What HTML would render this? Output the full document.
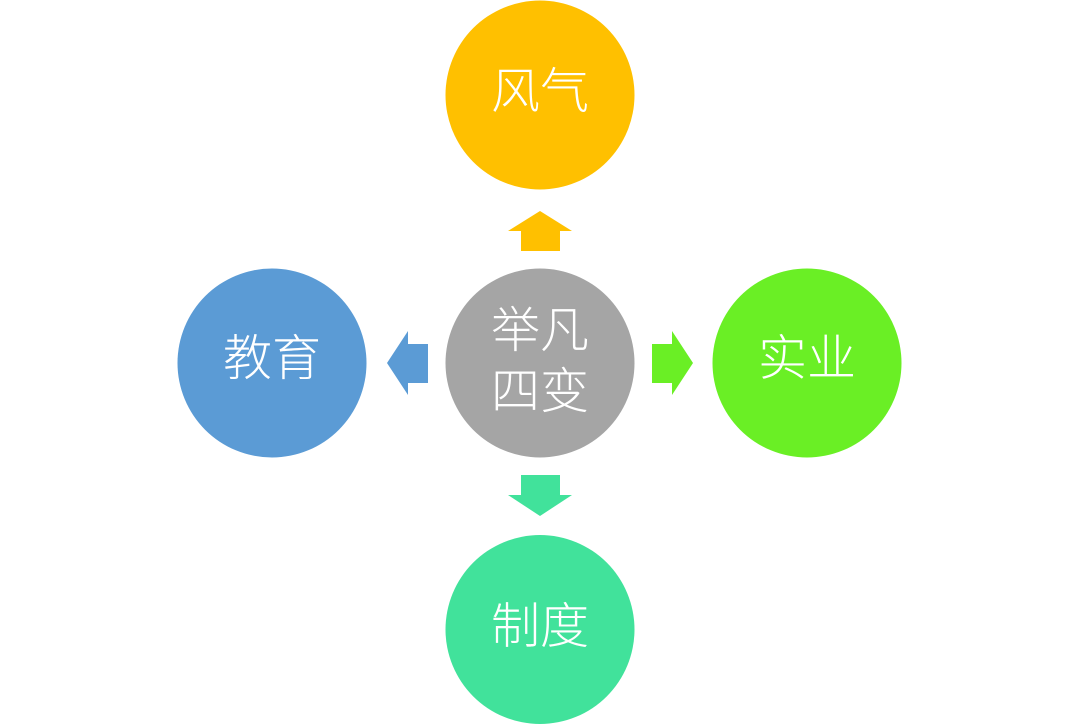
<!DOCTYPE html>
<html><head><meta charset="utf-8"><style>
html,body{margin:0;padding:0;background:#fff;width:1080px;height:726px;overflow:hidden}
svg{display:block}
text{font-family:"Liberation Sans","Noto Sans CJK SC",sans-serif;font-size:49px;font-weight:300;fill:#fff;text-anchor:middle;dominant-baseline:central}
</style></head><body>
<svg width="1080" height="726" viewBox="0 0 1080 726">
<circle cx="540" cy="95" r="94.5" fill="#FFC000"/>
<circle cx="272" cy="363" r="94.5" fill="#5B9BD5"/>
<circle cx="540" cy="363" r="94.5" fill="#A5A5A5"/>
<circle cx="807" cy="363" r="94.5" fill="#6AEF25"/>
<circle cx="540" cy="629.5" r="94.5" fill="#41E29B"/>
<polygon points="540,211 572,231 560,231 560,251 521,251 521,231 508,231" fill="#FFC000"/>
<polygon points="540,516 572,495 560,495 560,475 521,475 521,495 508,495" fill="#41E29B"/>
<polygon points="387,363 408,331 408,344 428,344 428,383 408,383 408,395" fill="#5B9BD5"/>
<polygon points="693,363 672,331 672,344 652,344 652,383 672,383 672,395" fill="#6AEF25"/>
<text x="540" y="92">风气</text>
<text x="272" y="359">教育</text>
<text x="807" y="359">实业</text>
<text x="540" y="627">制度</text>
<text x="540" y="331">举凡</text>
<text x="540" y="392">四变</text>
</svg>
</body></html>
